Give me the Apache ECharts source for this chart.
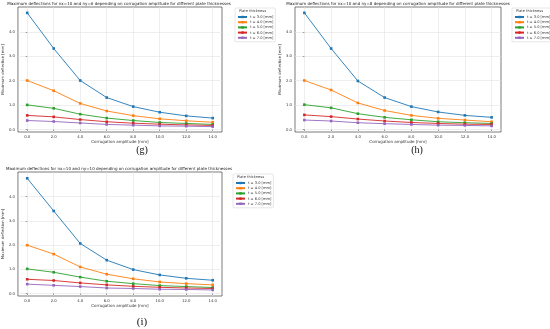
<!DOCTYPE html>
<html><head><meta charset="utf-8">
<script src="https://cdn.jsdelivr.net/npm/echarts@6/dist/echarts.min.js"></script>
<style>html,body{margin:0;padding:0;background:#fff}#c{width:550px;height:329px}</style>
</head><body><div id="c"></div>
<script>
// ---- data ----
const amplitudes = [0, 2, 4, 6, 8, 10, 12, 14];
const thicknessNames = ['t = 3.0 [mm]', 't = 4.0 [mm]', 't = 5.0 [mm]', 't = 6.0 [mm]', 't = 7.0 [mm]'];
const xTicks = [0, 2, 4, 6, 8, 10, 12, 14];
const yTicks = [0, 1, 2, 3, 4];

// panel (g): nx=10, ny=6
const gT3 = [4.78, 3.32, 2.01, 1.31, 0.94, 0.71, 0.56, 0.47];
const gT4 = [2.01, 1.59, 1.07, 0.76, 0.57, 0.44, 0.36, 0.30];
const gT5 = [1.01, 0.87, 0.63, 0.47, 0.37, 0.29, 0.25, 0.21];
const gT6 = [0.58, 0.52, 0.41, 0.32, 0.26, 0.22, 0.19, 0.17];
const gT7 = [0.37, 0.33, 0.27, 0.21, 0.18, 0.15, 0.14, 0.12];
// panel (h): nx=10, ny=8
const hT3 = [4.78, 3.32, 1.99, 1.31, 0.94, 0.72, 0.58, 0.50];
const hT4 = [2.01, 1.62, 1.09, 0.78, 0.58, 0.46, 0.39, 0.32];
const hT5 = [1.02, 0.89, 0.65, 0.50, 0.40, 0.32, 0.28, 0.25];
const hT6 = [0.60, 0.53, 0.43, 0.35, 0.29, 0.25, 0.22, 0.21];
const hT7 = [0.39, 0.35, 0.28, 0.24, 0.21, 0.18, 0.17, 0.15];
// panel (i): nx=10, ny=10
const iT3 = [4.76, 3.41, 2.07, 1.38, 0.99, 0.77, 0.63, 0.55];
const iT4 = [2.00, 1.63, 1.10, 0.80, 0.61, 0.48, 0.41, 0.36];
const iT5 = [1.02, 0.88, 0.68, 0.51, 0.41, 0.33, 0.29, 0.25];
const iT6 = [0.59, 0.54, 0.44, 0.36, 0.30, 0.26, 0.23, 0.21];
const iT7 = [0.39, 0.34, 0.29, 0.23, 0.21, 0.18, 0.17, 0.15];

const panelTitles = [
  'Maximum deflections for nx=10 and ny=6 depending on corrugation amplitude for different plate thicknesses',
  'Maximum deflections for nx=10 and ny=8 depending on corrugation amplitude for different plate thicknesses',
  'Maximum deflections for nx=10 and ny=10 depending on corrugation amplitude for different plate thicknesses'
];
const panelLetters = ['(g)', '(h)', '(i)'];
const panelSeries = [[gT3, gT4, gT5, gT6, gT7], [hT3, hT4, hT5, hT6, hT7], [iT3, iT4, iT5, iT6, iT7]];
const xName = 'Corrugation amplitude [mm]';
const yName = 'Maximum deflection [mm]';
const legendTitle = 'Plate thickness';

// ---- layout / style ----
const colors = ['#1f77b4', '#ff7f0e', '#2ca02c', '#d62728', '#9467bd'];
const panels = [
  {left: 16, top: 7, width: 206, height: 125, legL: 235, legT: 8, letterX: 137, letterY: 140, letterSize: 10},
  {left: 295, top: 7, width: 206, height: 125, legL: 512, legT: 8, letterX: 412, letterY: 140, letterSize: 10},
  {left: 16, top: 172, width: 206, height: 124, legL: 233, legT: 174, letterX: 137, letterY: 312, letterSize: 11}
];
const font = 'DejaVu Sans';

const option = {animation: false, backgroundColor: '#fff', grid: [], xAxis: [], yAxis: [], series: [], title: [], legend: []};
panels.forEach((p, k) => {
  option.grid.push({left: p.left, top: p.top, width: p.width, height: p.height, show: true,
    borderColor: '#444', borderWidth: 0.7, backgroundColor: 'transparent', containLabel: false});
  option.xAxis.push({type: 'value', gridIndex: k, min: -0.7, max: 14.7,
    name: xName, nameLocation: 'middle', nameGap: 8,
    nameTextStyle: {fontSize: 4, color: '#333', fontFamily: font},
    axisLine: {show: false},
    axisTick: {show: true, length: 1.5, lineStyle: {color: '#444', width: 0.5}, customValues: xTicks},
    axisLabel: {fontSize: 3.8, color: '#333', margin: 3, fontFamily: font, customValues: xTicks,
      formatter: v => Number(v).toFixed(1)},
    splitLine: {show: true, lineStyle: {color: '#e3e3e3', width: 0.6}}});
  option.yAxis.push({type: 'value', gridIndex: k, min: -0.1, max: 5.02,
    name: yName, nameLocation: 'middle', nameGap: 10, nameRotate: 90,
    nameTextStyle: {fontSize: 3.8, color: '#333', fontFamily: font},
    axisLine: {show: false},
    axisTick: {show: true, length: 1.5, lineStyle: {color: '#444', width: 0.5}, customValues: yTicks},
    axisLabel: {fontSize: 3.8, color: '#333', margin: 3, fontFamily: font, customValues: yTicks,
      formatter: v => Number(v).toFixed(1)},
    splitLine: {show: true, lineStyle: {color: '#e3e3e3', width: 0.6}}});
  option.title.push({text: panelTitles[k], left: p.left + p.width / 2, top: p.top - 5.5, textAlign: 'center',
    padding: 0, textStyle: {fontSize: 4.05, fontWeight: 'normal', color: '#222', fontFamily: font}});
  option.title.push({text: panelLetters[k], left: p.letterX, top: p.letterY, textAlign: 'center',
    textStyle: {fontSize: p.letterSize, fontWeight: 'normal', color: '#111', fontFamily: 'Liberation Serif'}});
  option.title.push({text: legendTitle, left: p.legL + 17.5, top: p.legT + 1.5, textAlign: 'center', z: 20,
    padding: 0, textStyle: {fontSize: 3.6, fontWeight: 'normal', color: '#333', fontFamily: font, lineHeight: 4}});
  option.legend.push({data: thicknessNames, orient: 'vertical', left: p.legL, top: p.legT, z: 3,
    padding: [7, 2, 2, 2], itemGap: 1.2, itemWidth: 9, itemHeight: 3,
    borderColor: '#ccc', borderWidth: 0.5, borderRadius: 1, backgroundColor: '#fff',
    textStyle: {fontSize: 3.6, lineHeight: 3.8, color: '#333', fontFamily: font, padding: [0, 0, 0, -2]}});
  panelSeries[k].forEach((vals, j) => {
    option.series.push({type: 'line', name: thicknessNames[j], xAxisIndex: k, yAxisIndex: k,
      data: amplitudes.map((a, i) => [a, vals[i]]),
      color: colors[j], symbol: 'rect', symbolSize: 2.6, showSymbol: true,
      lineStyle: {width: 0.9, color: colors[j]}, itemStyle: {color: colors[j]}});
  });
});
const chart = echarts.init(document.getElementById('c'), null, {renderer: 'canvas'});
chart.setOption(option);
</script></body></html>
